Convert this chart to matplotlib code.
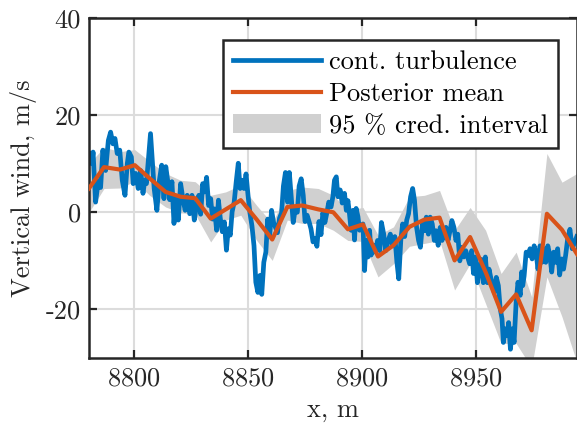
import numpy as np
import matplotlib
matplotlib.use("Agg")
import matplotlib.pyplot as plt

plt.rcParams['font.family'] = ['cmr10', 'DejaVu Serif']
plt.rcParams['mathtext.fontset'] = 'cm'
plt.rcParams['axes.unicode_minus'] = False
plt.rcParams['axes.formatter.use_mathtext'] = True

# posterior mean knots and 95 % band
knot_x = [8780.4, 8787.0, 8794.0, 8800.5, 8807.0, 8814.0, 8820.6, 8827.0, 8833.8,
          8840.4, 8847.0, 8854.0, 8860.8, 8867.4, 8874.0, 8881.0, 8887.6, 8894.0,
          8900.6, 8907.2, 8914.0, 8921.0, 8927.6, 8934.2, 8940.8, 8947.6, 8954.4,
          8961.2, 8967.8, 8974.6, 8981.3, 8987.9, 8994.5]
post_mean = [4.9, 9.3, 8.8, 9.7, 7.0, 4.2, 3.2, 2.9, -1.3,
             0.6, 2.5, -1.5, -5.6, 1.1, 1.4, 0.6, 0.0, -3.5,
             -2.5, -9.1, -6.8, -3.0, -1.5, -1.1, -9.9, -5.1, -12.3,
             -20.5, -16.9, -24.3, -0.3, -3.6, -8.6]
band_hi = [10.0, 13.4, 12.5, 12.9, 10.5, 8.0, 6.6, 6.3, 3.5,
           4.2, 5.6, 1.4, -2.3, 4.5, 5.2, 4.9, 3.5, 0.4,
           1.0, -4.7, -3.0, 3.2, 3.5, 4.5, -3.7, 1.0, -3.7,
           -12.6, -8.2, -17.4, 12.1, 6.2, 8.0]
band_lo = [0.0, 4.9, 5.0, 6.4, 3.5, 1.1, -0.1, -0.4, -6.1,
           -1.6, -0.6, -5.8, -9.9, -1.6, -2.3, -2.3, -3.7, -5.8,
           -6.0, -13.3, -10.6, -7.0, -6.4, -5.8, -16.0, -10.6, -18.8,
           -27.0, -27.0, -32.0, -13.3, -21.5, -31.0]

# continuous turbulence, traced as (x, w) pairs
turb_x = [8780.4, 8781.6, 8782.2, 8783.3, 8784.5, 8785.5, 8786.5, 8787.7, 8788.9,
          8789.9, 8790.9, 8791.8, 8792.8, 8793.9, 8795.0, 8796.2, 8797.2, 8797.9,
          8799.0, 8799.8, 8800.9, 8802.0, 8803.1, 8804.1, 8804.9, 8805.6, 8806.7,
          8807.4, 8808.2, 8809.0, 8810.2, 8811.2, 8812.3, 8813.3, 8814.1, 8815.0,
          8815.8, 8816.8, 8817.7, 8818.6, 8819.6, 8820.6, 8821.6, 8822.6, 8823.5,
          8824.6, 8825.6, 8826.6, 8827.6, 8828.6, 8829.4, 8830.3, 8831.1, 8832.0,
          8832.9, 8833.8, 8834.6, 8835.5, 8836.4, 8837.2, 8838.0, 8838.9, 8839.8,
          8840.7, 8841.5, 8842.4, 8843.2, 8844.1, 8845.0, 8845.9, 8846.7, 8847.6,
          8848.4, 8849.3, 8850.2, 8851.0, 8851.9, 8852.8, 8853.6, 8854.5, 8855.4,
          8856.2, 8857.1, 8858.0, 8858.8, 8859.7, 8860.5, 8861.4, 8862.3, 8863.1,
          8864.0, 8864.9, 8865.7, 8866.6, 8867.5, 8868.3, 8869.2, 8870.0, 8870.9,
          8871.8, 8872.6, 8873.5, 8874.4, 8875.2, 8876.1, 8877.0, 8877.8, 8878.7,
          8879.6, 8880.4, 8881.3, 8882.2, 8883.0, 8883.9, 8884.8, 8885.6, 8886.6,
          8887.4, 8888.1, 8888.9, 8889.6, 8890.6, 8891.5, 8892.5, 8893.3, 8894.0,
          8894.7, 8895.4, 8896.2, 8896.9, 8897.6, 8898.4, 8899.1, 8900.6, 8901.3,
          8902.0, 8902.8, 8903.5, 8904.2, 8905.2, 8906.1, 8907.0, 8908.0, 8908.7,
          8909.7, 8910.6, 8911.7, 8912.6, 8913.7, 8914.6, 8915.5, 8916.3, 8917.2,
          8918.0, 8918.9, 8919.8, 8920.6, 8921.5, 8922.4, 8923.2, 8924.1, 8925.0,
          8925.8, 8926.7, 8927.6, 8928.4, 8929.3, 8930.1, 8931.0, 8931.9, 8932.7,
          8933.6, 8934.5, 8935.3, 8936.2, 8937.0, 8937.9, 8938.8, 8939.6, 8940.5,
          8941.4, 8942.2, 8943.1, 8943.9, 8944.8, 8945.7, 8946.5, 8947.4, 8948.3,
          8949.1, 8950.0, 8950.8, 8951.7, 8952.6, 8953.4, 8954.3, 8955.2, 8955.9,
          8956.5, 8957.4, 8958.2, 8959.1, 8960.0, 8960.8, 8961.6, 8962.2, 8963.0,
          8963.9, 8964.5, 8965.3, 8966.1, 8966.9, 8967.8, 8968.6, 8969.6, 8970.2,
          8970.7, 8971.3, 8972.2, 8973.1, 8973.9, 8974.8, 8975.7, 8976.5, 8977.4,
          8978.3, 8979.1, 8980.0, 8980.8, 8981.7, 8982.6, 8983.4, 8984.3, 8985.2,
          8986.0, 8986.9, 8987.8, 8988.6, 8989.5, 8990.4, 8991.4, 8992.4, 8994.4]
turb_w = [12.1, 10.0, 12.4, 2.1, 6.5, 5.1, 12.8, 8.6, 14.8,
          16.5, 14.1, 15.2, 12.1, 12.8, 6.6, 3.5, 10.0, 12.4,
          11.4, 5.9, 8.0, 4.9, 8.6, 3.9, 6.6, 5.9, 12.1,
          16.2, 10.7, 4.9, 0.4, 6.3, 9.7, 2.8, 9.4, 6.3,
          2.6, 6.3, -2.3, 3.1, -1.6, 5.9, 2.8, 0.4, 3.5,
          -0.3, 3.5, -1.6, 1.4, 3.5, -0.4, 5.9, 4.2, 7.2,
          1.4, 2.8, -1.4, 0.7, -3.7, 2.5, -1.2, -4.0, -2.0,
          -7.8, -3.4, -4.7, 0.1, 2.1, 6.3, 10.1, 4.9, 6.6,
          4.9, 7.9, 3.4, -0.1, -2.8, -6.9, -14.4, -16.5, -13.0,
          -16.9, -10.3, -8.2, -1.4, -4.8, 0.4, -2.1, -3.2, -4.2,
          -1.2, -0.1, 5.4, 8.2, 2.1, 8.2, 2.8, -2.1, 0.7,
          0.0, 5.4, 6.9, 3.5, -1.9, -0.6, -2.0, -3.4, -6.1,
          -5.4, -7.0, -1.9, -4.6, -0.1, -2.1, 0.0, 2.1, 1.1,
          3.2, 6.6, 7.3, 3.2, 4.6, 1.9, 3.9, 0.4, 2.4,
          -0.4, -3.7, 0.4, -5.7, 0.8, -0.9, -3.7, -2.4, -12.0,
          -5.8, -9.2, -3.7, -8.8, -6.8, -8.2, -5.8, -7.9, -2.1,
          -4.5, -7.9, -5.8, -4.5, -6.9, -5.0, -10.3, -13.7, -5.8,
          -2.4, -5.0, -1.6, -0.3, 3.2, 4.9, 2.5, -3.0, -5.8,
          -7.2, -2.4, -3.8, -1.0, -4.5, -1.0, -2.4, -5.8, -3.8,
          -6.8, -3.1, -5.8, -4.1, -3.1, -5.8, -3.8, -1.7, -3.1,
          -5.8, -4.5, -10.0, -7.2, -9.2, -7.9, -9.2, -10.6, -7.9,
          -12.6, -9.2, -14.5, -11.7, -9.7, -14.5, -9.2, -14.5, -11.7,
          -13.1, -15.1, -16.5, -13.4, -15.1, -19.8, -21.9, -26.8, -24.0,
          -25.4, -22.7, -28.2, -24.0, -26.8, -18.5, -14.4, -17.1, -12.3,
          -15.1, -13.1, -8.2, -8.9, -7.5, -9.6, -6.9, -8.2, -11.7,
          -6.9, -10.3, -7.5, -10.3, -6.9, -8.9, -12.3, -8.2, -10.3,
          -7.5, -12.9, -9.6, -11.7, -8.9, -5.5, -3.5, -7.5, -5.0]

x_ticks = [8800, 8850, 8900, 8950]
y_ticks = [-20, 0, 20, 40]
y_ticklabels = ['-20', '0', '20', '40']

fs = 19

fig = plt.figure(figsize=(5.77, 4.29), dpi=100)
ax = fig.add_axes([0.1542, 0.1655, 0.8458, 0.7925])

band = ax.fill_between(knot_x, band_lo, band_hi, color='#d0d0d0', linewidth=0,
                       label='95 % cred. interval', zorder=1)
l1, = ax.plot(turb_x, turb_w, color='#0072BD', lw=3.4, label='cont. turbulence', zorder=2)
l2, = ax.plot(knot_x, post_mean, color='#D95319', lw=3.0, label='Posterior mean', zorder=3)

ax.set_xlim(8780.4, 8994.5)
ax.set_ylim(-30, 40)
ax.set_xticks(x_ticks)
ax.set_yticks(y_ticks)
ax.set_yticklabels(y_ticklabels)
ax.grid(True, color='#dcdcdc', lw=1.5)
ax.set_axisbelow(True)
ax.tick_params(direction='in', length=6, width=1.6, top=True, right=True,
               labelsize=fs, colors='#262626', pad=6)
for s in ax.spines.values():
    s.set_linewidth(1.8)
    s.set_color('#262626')

ax.set_xlabel('x, m', fontsize=fs, color='#262626', labelpad=6)
ax.set_ylabel('Vertical wind, m/s', fontsize=fs, color='#262626', labelpad=6)

leg = ax.legend(handles=[l1, l2, band], loc='upper right', bbox_to_anchor=(0.962, 0.935),
                fontsize=fs, handlelength=3.35, handletextpad=0.3, labelspacing=0.31,
                borderpad=0.38, borderaxespad=0, fancybox=False, framealpha=1)
leg.get_frame().set_edgecolor('#262626')
leg.get_frame().set_linewidth(1.8)

fig.savefig('out.png', dpi=100)
